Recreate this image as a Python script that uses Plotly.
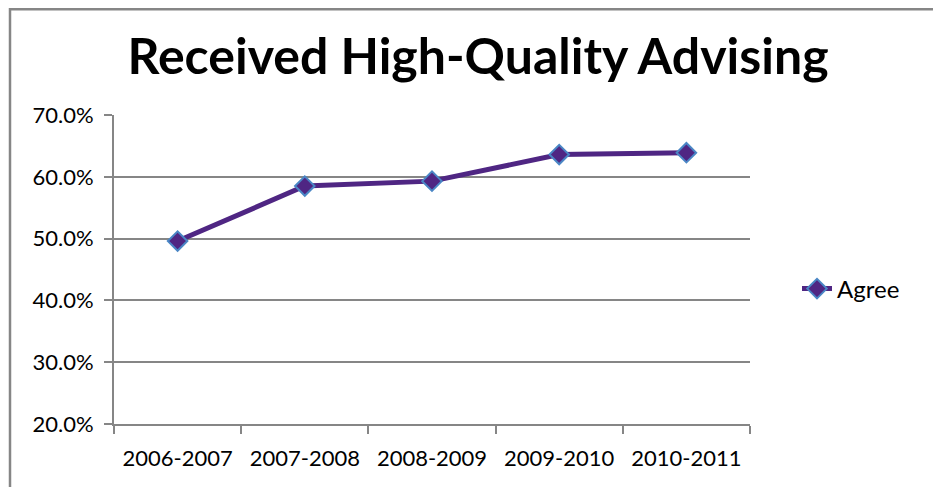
import plotly.graph_objects as go

categories = ["2006-2007", "2007-2008", "2008-2009", "2009-2010", "2010-2011"]
agree = [0.496, 0.585, 0.593, 0.636, 0.639]
series_name = "Agree"
title_text = "Received High-Quality Advising"

# page body has an 8px margin; work in screen coords and shift
OFF = 8
W, H = 941 - OFF, 487 - OFF
L, R, T, B = 114 - OFF, 750 - OFF, 115 - OFF, 424 - OFF

def px(x):
    return (x - OFF - L) / (R - L)

def py(y):
    return (B - (y - OFF)) / (B - T)

font_family = "Lato, 'Open Sans', sans-serif"
grey = "#868686"

fig = go.Figure()
fig.add_trace(go.Scatter(
    x=categories, y=agree, name=series_name, mode="lines+markers",
    line=dict(color="#4F2683", width=5),
    marker=dict(symbol="diamond", size=15, color="#4F2683",
                line=dict(color="#4A86C5", width=2)),
))

fig.update_layout(
    width=W, height=H,
    margin=dict(l=L, r=W - R, t=T, b=H - B),
    paper_bgcolor="white", plot_bgcolor="white",
    font=dict(family=font_family, color="black", size=22),
    title=dict(text="<b>" + title_text + "</b>", x=(478 - OFF) / W, xanchor="center",
               y=1 - (56 - OFF) / H, yanchor="middle",
               font=dict(size=50, family=font_family, color="black")),
    showlegend=True,
    legend=dict(x=px(797), y=py(289), xanchor="left", yanchor="middle",
                font=dict(size=24), bgcolor="rgba(0,0,0,0)"),
    xaxis=dict(type="category", showgrid=False, showline=True, linecolor=grey,
               linewidth=2, ticks="outside", tickson="boundaries", ticklen=8,
               tickwidth=2, tickcolor=grey, ticklabelstandoff=14,
               tickfont=dict(size=22), range=[-0.5, 4.5]),
    yaxis=dict(range=[0.2, 0.7], dtick=0.1, tickformat=".1%", showgrid=True,
               gridcolor=grey, gridwidth=2, showline=True, linecolor=grey,
               linewidth=2, ticks="outside", ticklen=8, tickwidth=2,
               tickcolor=grey, tickfont=dict(size=22), ticklabelstandoff=6,
               zeroline=False),
    shapes=[dict(type="rect", xref="paper", yref="paper",
                 x0=px(10), x1=px(960), y0=py(9.2), y1=py(510),
                 line=dict(color=grey, width=2.5), layer="below")],
)

fig.write_html("out.html")
